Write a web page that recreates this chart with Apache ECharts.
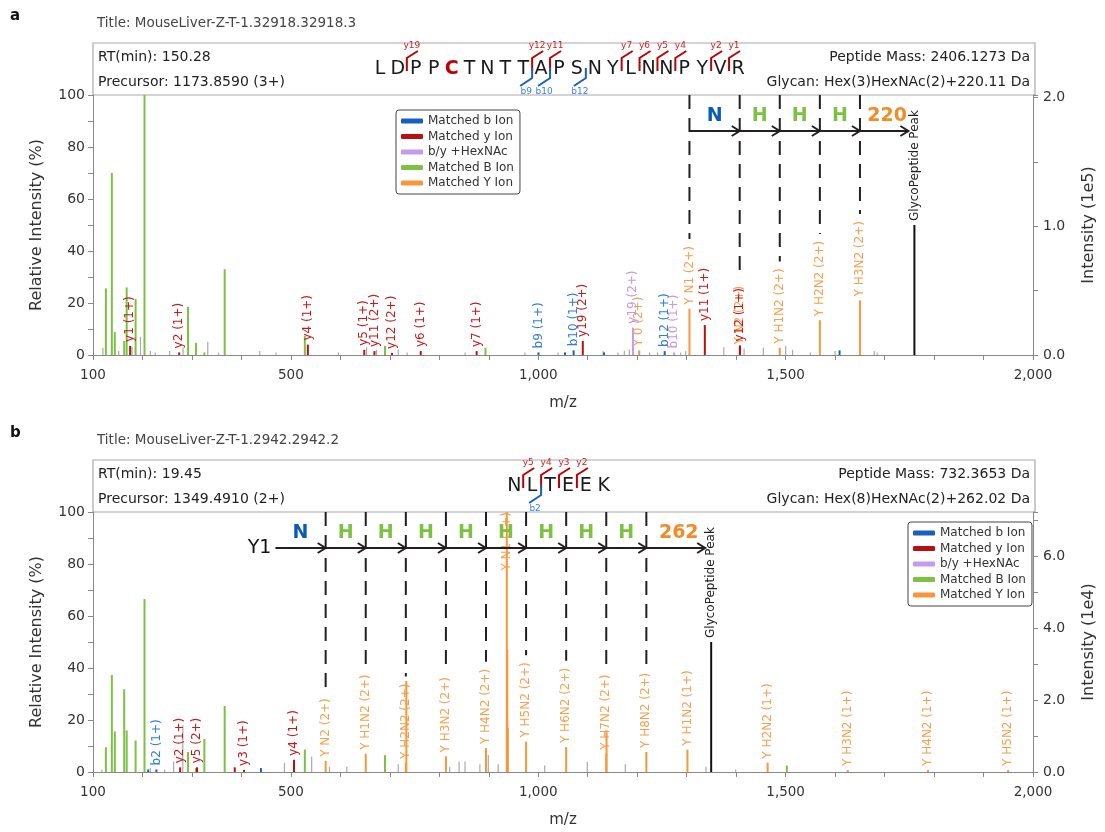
<!DOCTYPE html>
<html>
<head>
<meta charset="utf-8">
<script src="https://cdn.jsdelivr.net/npm/echarts@6/dist/echarts.min.js"></script>
<style>
  html, body { margin: 0; padding: 0; background: #fff; }
  #chart { width: 1105px; height: 832px; }
</style>
</head>
<body>
<div id="chart"></div>
<script>
const FONT = '"DejaVu Sans", Verdana, sans-serif';

// ---------- Spectrum a ----------
const aPanel = 'a';
const aTitle = 'Title: MouseLiver-Z-T-1.32918.32918.3';
const aInfoLeft = ['RT(min): 150.28', 'Precursor: 1173.8590 (3+)'];
const aInfoRight = ['Peptide Mass: 2406.1273 Da', 'Glycan: Hex(3)HexNAc(2)+220.11 Da'];
const aSequence = 'LDPPCTNTTAPSNYLNNPYVR';
const aModified = [4];                       // carbamidomethyl Cys (0-based)
const aYMarks = [19, 12, 11, 7, 6, 5, 4, 2, 1];
const aBMarks = [9, 10, 12];
const aIntensityMax = 2.02;                  // intensity (1e5) at 100 %

// peaks: [m/z, relative intensity %, annotation]
const aUnmatched = [[120, 2.8], [152, 1.5], [179, 3], [196, 7], [216, 1.5], [226, 1], [255, 1.5], [282, 3],
  [332, 5], [354, 1], [437, 1.5], [470, 1], [596, 1], [653, 3], [673, 2], [717, 2], [735, 1], [852, 1],
  [973, 1], [1040, 1], [1131, 1.5], [1161, 1], [1174, 1.5], [1184, 2], [1225, 1], [1241, 1], [1288, 1],
  [1298, 1.5], [1375, 3], [1416, 2.5], [1455, 2.8], [1500, 3.5], [1514, 2], [1550, 1], [1600, 1.5],
  [1679, 1.5], [1685, 1]];
const aOxonium = [[126.06, 25.6], [138.06, 70], [144.07, 8.8], [163.06, 5.4], [168.07, 26], [186.08, 21.6],
  [204.09, 100], [292.10, 18.5], [308.10, 4.7], [325.11, 1], [366.14, 33], [528.19, 7.3], [690.25, 3.5],
  [893.33, 2.8]];
const aYGlyco = [[1204.07, 1.8, 'Y 0 (2+)'], [1305.61, 17.8, 'Y N1 (2+)'], [1407.15, 2.5, 'Y N2 (2+)'],
  [1488.18, 2.8, 'Y H1N2 (2+)'], [1569.20, 13.4, 'Y H2N2 (2+)'], [1650.23, 21, 'Y H3N2 (2+)']];
const aHexNAc = [[1191.55, 10.5, 'y19 (2+)'], [1274.56, 1, 'b10 (1+)']];
const aBIons = [[1000.44, 1, 'b9 (1+)'], [1054, 1], [1071.48, 1.8, 'b10 (1+)'], [1133, 1],
  [1255.56, 1.5, 'b12 (1+)'], [1609, 1.8]];
const aYIons = [[175.12, 3.5, 'y1 (1+)'], [274.19, 1, 'y2 (1+)'], [534.30, 4, 'y4 (1+)'], [648.35, 2, 'y5 (1+)'],
  [668.84, 1.5, 'y11 (2+)'], [704.35, 0.8, 'y12 (2+)'], [762.39, 1.5, 'y6 (1+)'], [875.47, 1.5, 'y7 (1+)'],
  [1090.01, 5.4, 'y19 (2+)'], [1336.66, 11.5, 'y11 (1+)'], [1407.70, 3.7, 'y12 (1+)']];
const aPrecursor = [[1760.28, 50, 'GlycoPeptide Peak']];
// glycan ladder (m/z of Y ions, last = intact glycopeptide) and the residue between steps
const aLadderMz = [1305.61, 1407.15, 1488.18, 1569.20, 1650.23, 1760.28];
const aLadderText = ['N', 'H', 'H', 'H', '220'];
const aLadderStart = '';

// ---------- Spectrum b ----------
const bPanel = 'b';
const bTitle = 'Title: MouseLiver-Z-T-1.2942.2942.2';
const bInfoLeft = ['RT(min): 19.45', 'Precursor: 1349.4910 (2+)'];
const bInfoRight = ['Peptide Mass: 732.3653 Da', 'Glycan: Hex(8)HexNAc(2)+262.02 Da'];
const bSequence = 'NLTEEK';
const bModified = [];
const bYMarks = [5, 4, 3, 2];
const bBMarks = [2];
const bIntensityMax = 7.22;                  // intensity (1e4) at 100 %

const bUnmatched = [[118, 1], [216, 1.5], [245, 1], [263, 4], [281.5, 18], [487, 3.5], [542, 6], [578, 2],
  [613, 2], [717, 3], [821, 2], [840, 4], [852, 4], [882, 3], [899, 6.5], [919, 3], [1013, 2.5],
  [1099, 3.8], [1176, 3], [1339, 2], [1399, 1]];
const bOxonium = [[126.06, 9.5], [138.06, 37.3], [144.07, 15.6], [163.06, 31.8], [168.07, 16], [186.08, 12.1],
  [204.09, 66.5], [292.10, 7.7], [308.10, 1.5], [325.11, 12.7], [366.14, 25.4], [528.19, 8.6], [690.25, 6.5],
  [1502.5, 2.5]];
const bYGlyco = [[570.26, 4.3, 'Y N2 (2+)'], [651.29, 7, 'Y H1N2 (2+)'], [732.31, 3.5, 'Y H2N2 (2+)'],
  [733.37, 35], [813.34, 6, 'Y H3N2 (2+)'], [894.37, 9.2, 'Y H4N2 (2+)'], [936.43, 100, 'Y N1 (1+)'],
  [937.43, 47], [938.43, 17], [975.39, 11.7, 'Y H5N2 (2+)'], [1056.42, 9.6, 'Y H6N2 (2+)'],
  [1137.45, 7, 'Y H7N2 (2+)'], [1137.95, 16], [1218.47, 7.7, 'Y H8N2 (2+)'], [1301.57, 8.6, 'Y H1N2 (1+)'],
  [1463.62, 3.6, 'Y H2N2 (1+)'], [1625.67, 0.8, 'Y H3N2 (1+)'], [1787.72, 0.8, 'Y H4N2 (1+)'],
  [1949.78, 0.8, 'Y H5N2 (1+)']];
const bHexNAc = [];
const bBIons = [[211.5, 1], [228.13, 1, 'b2 (1+)'], [439.5, 1.5]];
const bYIons = [[276.16, 1.8, 'y2 (1+)'], [310.17, 1.8, 'y5 (2+)'], [386.5, 1.8], [405.20, 0.8, 'y3 (1+)'],
  [506.25, 4.7, 'y4 (1+)']];
const bPrecursor = [[1349.49, 50, 'GlycoPeptide Peak']];
const bLadderMz = [468.72, 570.26, 651.29, 732.31, 813.34, 894.37, 975.39, 1056.42, 1137.45, 1218.47, 1349.49];
const bLadderText = ['N', 'H', 'H', 'H', 'H', 'H', 'H', 'H', 'H', '262'];
const bLadderStart = 'Y1';

// ---------- shared ----------
const xTicks = [100, 500, 1000, 1500, 2000];
const ionNames = ['Matched b Ion', 'Matched y Ion', 'b/y +HexNAc', 'Matched B Ion', 'Matched Y Ion'];
const COLORS = {
  b: '#1660c0', y: '#b8100f', hex: '#c49af2', B: '#7cc142', Y: '#f7963a', gray: '#a9a9a9', pre: '#111111'
};
const LABEL_COLORS = {
  b: '#2f7fd6', y: '#c41a1a', hex: '#bf98f0', B: '#7cc142', Y: '#f5a04e', gray: '#888', pre: '#222'
};
const LABEL_SIZE = 12;

const measureCtx = document.createElement('canvas').getContext('2d');
function textWidth(s, size) {
  measureCtx.font = size + 'px ' + FONT;
  return measureCtx.measureText(s).width;
}
// bottom anchor of a rotated peak label (kept inside the plot)
function labelStart(peakTopY, plotTop, w) {
  return Math.max(peakTopY - 4, plotTop + w);
}

function stickSeries(name, peaks, kind, grid, lineWidth, z) {
  const color = COLORS[kind], lcolor = LABEL_COLORS[kind];
  return {
    type: 'custom', name, xAxisIndex: grid, yAxisIndex: grid * 2, z,
    itemStyle: { color },
    data: peaks.map(p => [p[0], p[1]]),
    encode: { x: 0, y: 1 },
    renderItem(params, api) {
      const mz = api.value(0), h = api.value(1);
      const p0 = api.coord([mz, 0]), p1 = api.coord([mz, h]);
      const kids = [{
        type: 'line', shape: { x1: p0[0], y1: p0[1], x2: p1[0], y2: p1[1] },
        style: { stroke: color, lineWidth }
      }];
      const text = peaks[params.dataIndex][2];
      if (text) {
        const w = textWidth(text, LABEL_SIZE);
        kids.push({
          type: 'text', x: p1[0], y: labelStart(p1[1], params.coordSys.y, w), rotation: Math.PI / 2,
          style: {
            text, fill: lcolor, fontSize: LABEL_SIZE, fontFamily: FONT,
            align: 'left', verticalAlign: 'middle', textAlign: 'left', textVerticalAlign: 'middle'
          }
        });
      }
      return { type: 'group', children: kids };
    }
  };
}

// glycan ladder: dashed guides, arrows and residue letters
function ladderSeries(ladderMz, ladderText, startText, yGlyco, grid) {
  const segs = ladderText.map((t, i) => [ladderMz[i], ladderMz[i + 1]]);
  return {
    type: 'custom', xAxisIndex: grid, yAxisIndex: grid * 2, z: 9, silent: true,
    data: segs, encode: { x: [0, 1] },
    renderItem(params, api) {
      const i = params.dataIndex;
      const cs = params.coordSys;
      const x1 = api.coord([api.value(0), 0])[0];
      const x2 = api.coord([api.value(1), 0])[0];
      const last = i === segs.length - 1;
      const ay = cs.y + 36, ty = cs.y + 21;
      const kids = [];
      const stroke = '#231f20';
      const end = last ? x2 - 6 : x2;
      kids.push({ type: 'line', shape: { x1, y1: ay, x2: end, y2: ay }, style: { stroke, lineWidth: 2 } });
      kids.push({ type: 'polyline', shape: { points: [[end - 8, ay - 5], [end, ay], [end - 8, ay + 5]] },
        style: { stroke, lineWidth: 2, fill: null } });
      const t = ladderText[i];
      const tc = t === 'N' ? '#0a5cb8' : (t === 'H' ? '#7cc142' : '#f28c28');
      kids.push({ type: 'text', x: (x1 + x2) / 2, y: ty,
        style: { text: t, fill: tc, fontSize: 19, fontWeight: 'bold', fontFamily: FONT,
          align: 'center', verticalAlign: 'middle', textAlign: 'center', textVerticalAlign: 'middle' } });
      // dashed guide down to the matching Y-ion label
      const guide = (mz, xg) => {
        const pk = yGlyco.find(p => p[2] && Math.abs(p[0] - mz) < 0.6);
        let yEnd = cs.y + cs.height * 0.5;
        if (pk) {
          const w = textWidth(pk[2], LABEL_SIZE);
          const top = api.coord([pk[0], pk[1]])[1];
          yEnd = labelStart(top, cs.y, w) - w - 7;
        }
        kids.push({ type: 'line', shape: { x1: xg, y1: cs.y, x2: xg, y2: yEnd },
          style: { stroke, lineWidth: 2, lineDash: [14, 9] } });
      };
      if (i === 0) {
        if (startText) {
          kids.push({ type: 'text', x: x1 - 4, y: ay,
            style: { text: startText, fill: '#111', fontSize: 19, fontFamily: FONT,
              align: 'right', verticalAlign: 'middle', textAlign: 'right', textVerticalAlign: 'middle' } });
        } else {
          guide(api.value(0), x1);
        }
      }
      if (!last) guide(api.value(1), x2);
      return { type: 'group', children: kids };
    }
  };
}

function txt(x, y, text, size, color, align, weight) {
  return { type: 'text', x, y, silent: true,
    style: { text, font: (weight || 'normal') + ' ' + size + 'px ' + FONT, fill: color,
      align: align || 'left', verticalAlign: 'middle', textAlign: align || 'left', textVerticalAlign: 'middle' } };
}

// header box: title, run info, annotated peptide sequence
function headerGraphics(panel, title, infoL, infoR, seq, modified, yMarks, bMarks, top) {
  const L = 93, R = 1035, boxTop = top - 52;
  const g = [];
  g.push(txt(10, boxTop - 27, panel, 15, '#111', 'left', 'bold'));
  g.push(txt(97, boxTop - 20, title, 13.5, '#444'));
  g.push({ type: 'rect', shape: { x: L, y: boxTop, width: R - L, height: top - boxTop },
    style: { fill: '#fff', stroke: '#a8a8a8', lineWidth: 1.2 }, silent: true });
  g.push(txt(98, boxTop + 14, infoL[0], 14, '#222'));
  g.push(txt(98, boxTop + 39, infoL[1], 14, '#222'));
  g.push(txt(1030, boxTop + 14, infoR[0], 14, '#222', 'right'));
  g.push(txt(1030, boxTop + 39, infoR[1], 14, '#222', 'right'));
  const n = seq.length, step = 17.9, cx = 559, cy = boxTop + 26;
  const xs = [...seq].map((_, i) => cx + (i - (n - 1) / 2) * step);
  [...seq].forEach((ch, i) => {
    const mod = modified.includes(i);
    g.push(txt(xs[i], cy, ch, 19, mod ? '#c00000' : '#1a1a1a', 'center', mod ? 'bold' : 'normal'));
  });
  yMarks.forEach(m => {
    const k = n - m, xb = (xs[k - 1] + xs[k]) / 2;
    g.push({ type: 'polyline', silent: true, shape: { points: [[xb, cy + 2], [xb, cy - 11], [xb + 11, cy - 18]] },
      style: { stroke: '#c00000', lineWidth: 2, fill: null } });
    g.push(txt(xb + 5, cy - 23, 'y' + m, 9, '#d42020', 'center'));
  });
  bMarks.forEach(m => {
    const xb = (xs[m - 1] + xs[m]) / 2;
    g.push({ type: 'polyline', silent: true, shape: { points: [[xb, cy - 1], [xb, cy + 9], [xb - 12, cy + 17]] },
      style: { stroke: '#1660c0', lineWidth: 2, fill: null } });
    g.push(txt(xb - 6, cy + 22.5, 'b' + m, 9, '#3a86d8', 'center'));
  });
  return g;
}

function xAxisCfg(grid) {
  return {
    type: 'value', gridIndex: grid, min: 100, max: 2000, interval: 100,
    name: 'm/z', nameLocation: 'middle', nameGap: 41,
    nameTextStyle: { fontSize: 15, color: '#333', fontFamily: FONT },
    axisLine: { lineStyle: { color: '#888' } },
    axisTick: { length: 5, lineStyle: { color: '#888' } },
    splitLine: { show: false },
    axisLabel: { interval: 0, margin: 13, fontSize: 13.5, color: '#333', fontFamily: FONT,
      formatter: v => xTicks.includes(v) ? v.toLocaleString('en-US') : '' }
  };
}
function yAxesCfg(grid, rightMax, rightStep, rightLabelStep, rightName) {
  return [{
    type: 'value', gridIndex: grid, min: 0, max: 100, interval: 10,
    name: 'Relative Intensity (%)', nameLocation: 'middle', nameGap: 48,
    nameTextStyle: { fontSize: 16, color: '#333', fontFamily: FONT },
    axisLine: { show: true, lineStyle: { color: '#888' } },
    axisTick: { show: true, length: 5, lineStyle: { color: '#888' } },
    splitLine: { show: false },
    axisLabel: { interval: 0, margin: 8, fontSize: 14, color: '#333', fontFamily: FONT,
      formatter: v => v % 20 === 0 ? String(v) : '' }
  }, {
    type: 'value', gridIndex: grid, position: 'right', min: 0, max: rightMax, interval: rightStep,
    name: rightName, nameLocation: 'middle', nameGap: 48,
    nameTextStyle: { fontSize: 16, color: '#333', fontFamily: FONT },
    axisLine: { show: true, lineStyle: { color: '#888' } },
    axisTick: { show: true, length: 5, lineStyle: { color: '#888' } },
    splitLine: { show: false },
    axisLabel: { interval: 0, margin: 10, fontSize: 14, color: '#333', fontFamily: FONT,
      formatter: v => {
        const q = v / rightLabelStep;
        return Math.abs(q - Math.round(q)) < 1e-6 ? v.toFixed(1) : '';
      } }
  }];
}
function legendCfg(left, top) {
  return {
    data: ionNames, left, top, orient: 'vertical', icon: 'roundRect',
    itemWidth: 22, itemHeight: 5, itemGap: 3.5, padding: [5, 6, 5, 5],
    borderColor: '#444', borderWidth: 1, borderRadius: 3, backgroundColor: '#fff',
    textStyle: { fontSize: 12, color: '#333', fontFamily: FONT }, selectedMode: false
  };
}
function panelSeries(grid, d) {
  return [
    stickSeries('Unmatched', d.un, 'gray', grid, 1.2, 2),
    stickSeries('Matched B Ion', d.B, 'B', grid, 2, 3),
    stickSeries('Matched Y Ion', d.Y, 'Y', grid, 2, 4),
    stickSeries('b/y +HexNAc', d.hex, 'hex', grid, 2, 5),
    stickSeries('Matched b Ion', d.b, 'b', grid, 2, 6),
    stickSeries('Matched y Ion', d.y, 'y', grid, 2, 7),
    stickSeries('GlycoPeptide', d.pre, 'pre', grid, 2, 8),
    ladderSeries(d.ladderMz, d.ladderText, d.ladderStart, d.Y, grid)
  ];
}

const chart = echarts.init(document.getElementById('chart'), null, { renderer: 'canvas' });
chart.setOption({
  animation: false,
  backgroundColor: '#fff',
  grid: [
    { left: 93, top: 95, width: 942, height: 260 },
    { left: 93, top: 512, width: 942, height: 260 }
  ],
  xAxis: [xAxisCfg(0), xAxisCfg(1)],
  yAxis: [...yAxesCfg(0, aIntensityMax, 0.5, 1, 'Intensity (1e5)'),
          ...yAxesCfg(1, bIntensityMax, 1, 2, 'Intensity (1e4)')],
  legend: [legendCfg(396, 110), legendCfg(908, 522)],
  graphic: [
    ...headerGraphics(aPanel, aTitle, aInfoLeft, aInfoRight, aSequence, aModified, aYMarks, aBMarks, 95),
    ...headerGraphics(bPanel, bTitle, bInfoLeft, bInfoRight, bSequence, bModified, bYMarks, bBMarks, 512)
  ],
  series: [
    ...panelSeries(0, { un: aUnmatched, B: aOxonium, Y: aYGlyco, hex: aHexNAc, b: aBIons, y: aYIons,
      pre: aPrecursor, ladderMz: aLadderMz, ladderText: aLadderText, ladderStart: aLadderStart }),
    ...panelSeries(1, { un: bUnmatched, B: bOxonium, Y: bYGlyco, hex: bHexNAc, b: bBIons, y: bYIons,
      pre: bPrecursor, ladderMz: bLadderMz, ladderText: bLadderText, ladderStart: bLadderStart })
  ]
});
</script>
</body>
</html>
